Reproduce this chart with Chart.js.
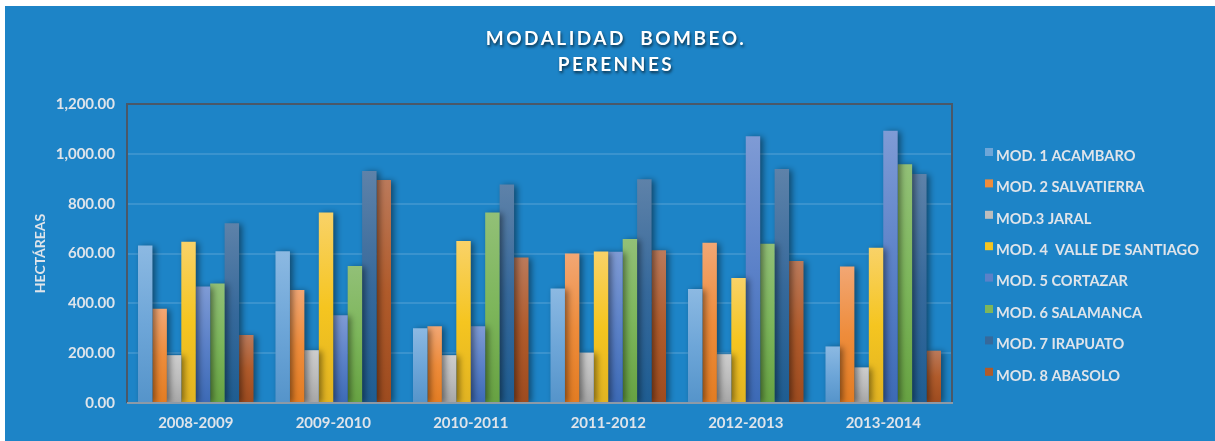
<!DOCTYPE html>
<html>
<head>
<meta charset="utf-8">
<script src="https://cdn.jsdelivr.net/npm/chart.js@4.4.1/dist/chart.umd.min.js"></script>
<style>
  html, body { margin: 0; padding: 0; background: #fff; }
  #wrap { width: 1215px; height: 441px; }
</style>
</head>
<body>
<div id="wrap"><canvas id="chart"></canvas></div>
<script>
// Categories and series (hectáreas)
const seasons = ['2008-2009', '2009-2010', '2010-2011', '2011-2012', '2012-2013', '2013-2014'];
const seriesNames = ['MOD. 1 ACAMBARO', 'MOD. 2 SALVATIERRA', 'MOD.3 JARAL', 'MOD. 4  VALLE DE SANTIAGO',
  'MOD. 5 CORTAZAR', 'MOD. 6 SALAMANCA', 'MOD. 7 IRAPUATO', 'MOD. 8 ABASOLO'];
const acambaro   = [632, 609, 300, 460, 458, 227];
const salvatierra = [378, 454, 308, 600, 643, 548];
const jaral      = [192, 212, 192, 202, 196, 143];
const valle      = [647, 765, 650, 608, 502, 623];
const cortazar   = [468, 352, 308, 607, 1071, 1093];
const salamanca  = [480, 550, 765, 658, 639, 958];
const irapuato   = [721, 931, 877, 898, 939, 919];
const abasolo    = [273, 895, 584, 613, 570, 210];
const yTicks = [0, 200, 400, 600, 800, 1000, 1200];

// top / middle / bottom shades of each bar
const shades = [
  ['#8cb9e2', '#6ea6d8', '#5594ca'],
  ['#f2a774', '#ee8c3b', '#e37c22'],
  ['#cdcdcd', '#bdbdbd', '#a6a6a6'],
  ['#f9d268', '#f5c520', '#e1b322'],
  ['#7f9bd5', '#5b81c8', '#3c6ab6'],
  ['#92c077', '#7db65b', '#67a242'],
  ['#5e82a9', '#36699b', '#1e5d92'],
  ['#bb7a5b', '#b05b2b', '#9d4b1f']
];
const seriesData = [acambaro, salvatierra, jaral, valle, cortazar, salamanca, irapuato, abasolo];

const BG = '#1d84c7';
const TEXT = '#dfe4ea';
const FONT = 'Lato, "Open Sans", sans-serif';

function barGradient(ctx, i) {
    const chart = ctx.chart;
    const area = chart.chartArea;
    if (!area || ctx.raw === undefined) return shades[i][1];
    const top = chart.scales.y.getPixelForValue(ctx.raw);
    const g = chart.ctx.createLinearGradient(0, top, 0, area.bottom);
    g.addColorStop(0, shades[i][0]);
    g.addColorStop(0.5, shades[i][1]);
    g.addColorStop(1, shades[i][2]);
    return g;
}

const datasets = seriesNames.map((name, i) => ({
    label: name,
    data: seriesData[i],
    backgroundColor: ctx => barGradient(ctx, i),
    borderWidth: 0,
    categoryPercentage: 0.84,
    barPercentage: 1
}));

// blue panel behind everything
const backgroundPlugin = {
    id: 'panel',
    beforeDraw(chart) {
        const c = chart.ctx;
        c.save();
        c.fillStyle = '#ffffff';
        c.fillRect(0, 0, chart.width, chart.height);
        c.fillStyle = BG;
        c.fillRect(5, 6, chart.width - 5, chart.height - 6);
        c.restore();
    }
};

// soft shadow for the bars, then the plot frame on top
const shadowPlugin = {
    id: 'barShadow',
    beforeDatasetsDraw(chart) {
        const c = chart.ctx;
        c.save();
        c.shadowColor = 'rgba(0, 0, 0, 0.45)';
        c.shadowBlur = 6;
        c.shadowOffsetX = 3;
        c.shadowOffsetY = 1;
    },
    afterDatasetsDraw(chart) {
        const c = chart.ctx;
        c.restore();
        const a = chart.chartArea;
        c.save();
        c.lineWidth = 2;
        c.strokeStyle = '#4a5868';
        c.beginPath();
        c.moveTo(a.left, a.bottom);
        c.lineTo(a.left, a.top);
        c.lineTo(a.right, a.top);
        c.lineTo(a.right, a.bottom);
        c.stroke();
        c.strokeStyle = '#8d9aa7';
        c.beginPath();
        c.moveTo(a.left, a.bottom);
        c.lineTo(a.right + 1, a.bottom);
        c.stroke();
        c.restore();
    }
};

// title and legend drawn by hand
const textPlugin = {
    id: 'texts',
    afterDraw(chart) {
        const c = chart.ctx;
        c.save();
        c.font = 'bold 19px ' + FONT;
        c.textAlign = 'center';
        c.textBaseline = 'alphabetic';
        c.letterSpacing = '2.5px';
        c.shadowColor = 'rgba(0, 0, 0, 0.65)';
        c.shadowBlur = 3;
        c.shadowOffsetX = 1;
        c.shadowOffsetY = 2;
        c.fillStyle = '#ffffff';
        c.fillText('MODALIDAD  BOMBEO.', 616, 45);
        c.fillText('PERENNES', 616, 71);
        c.restore();

        c.save();
        c.font = 'bold 14.6px ' + FONT;
        c.textBaseline = 'middle';
        c.textAlign = 'left';
        chart.data.datasets.forEach((ds, i) => {
            const y = 156 + i * 31.4;
            c.fillStyle = shades[i][1];
            c.fillRect(985, y - 8, 8, 8);
            c.fillStyle = TEXT;
            c.fillText(ds.label, 996, y);
        });
        c.restore();
    }
};

new Chart(document.getElementById('chart'), {
    type: 'bar',
    data: { labels: seasons, datasets: datasets },
    options: {
        responsive: true,
        maintainAspectRatio: false,
        animation: false,
        devicePixelRatio: 1,
        layout: { padding: { left: 0, right: 263, top: 104, bottom: 0 } },
        plugins: {
            legend: { display: false },
            title: { display: false },
            tooltip: { enabled: false }
        },
        scales: {
            x: {
                grid: { display: false, drawTicks: false },
                border: { display: false },
                ticks: {
                    color: TEXT,
                    font: { family: FONT, size: 15, weight: 'bold' },
                    padding: 11,
                    maxRotation: 0
                },
                afterFit(scale) { scale.height = 38; }
            },
            y: {
                min: 0,
                max: 1200,
                afterBuildTicks(scale) { scale.ticks = yTicks.map(v => ({ value: v })); },
                grid: { color: 'rgba(255, 255, 255, 0.13)', lineWidth: 2, drawTicks: false },
                border: { display: false },
                ticks: {
                    color: TEXT,
                    font: { family: FONT, size: 15, weight: 'bold' },
                    padding: 12,
                    callback: v => v.toLocaleString('en-US', { minimumFractionDigits: 2, maximumFractionDigits: 2 })
                },
                title: {
                    display: true,
                    text: 'HECTÁREAS',
                    color: TEXT,
                    font: { family: FONT, size: 14, weight: 'bold' },
                    padding: { top: 32, bottom: 0 }
                },
                afterFit(scale) { scale.width = 127; }
            }
        }
    },
    plugins: [backgroundPlugin, shadowPlugin, textPlugin]
});
</script>
</body>
</html>
